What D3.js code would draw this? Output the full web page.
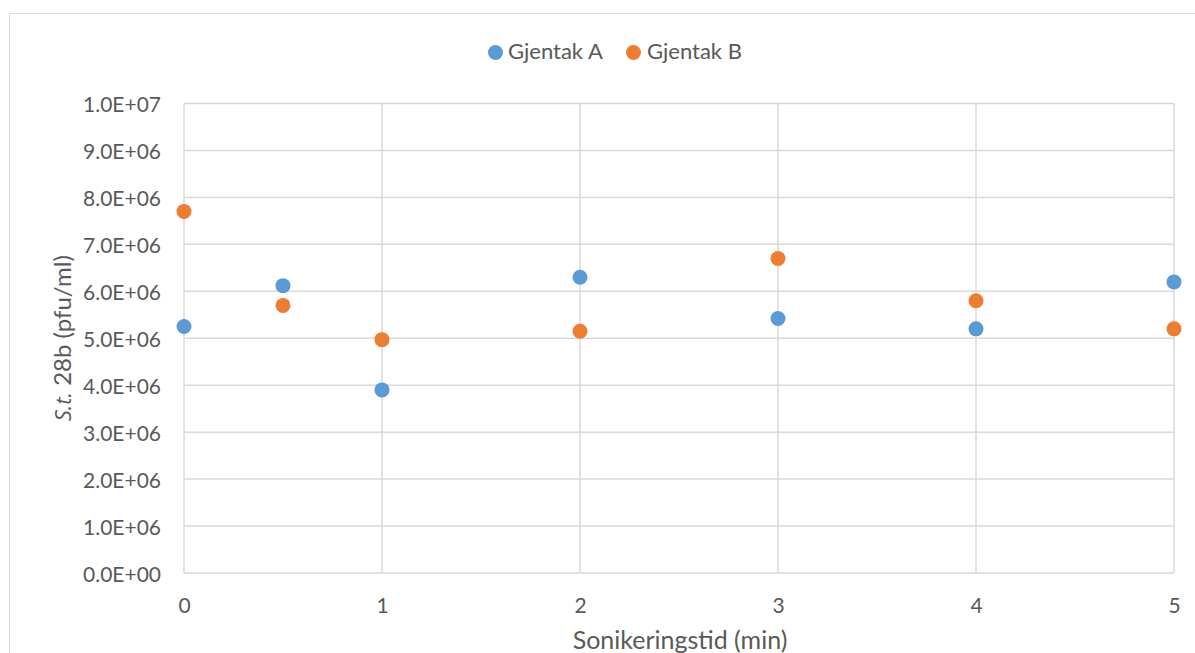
<!DOCTYPE html>
<html>
<head>
<meta charset="utf-8">
<script src="https://cdn.jsdelivr.net/npm/d3@7"></script>
<style>
  html, body { margin: 0; padding: 0; background: #fff; }
  svg { display: block; }
  text { font-family: Lato, "Open Sans", sans-serif; fill: #595959; }
</style>
</head>
<body>
<svg id="chart" width="1195" height="653"></svg>
<script>
// Sonication time (min)
const times = [0, 0.5, 1, 2, 3, 4, 5];
// Replicate A and B plaque counts (pfu/ml)
const gjentakA = [5.25e6, 6.12e6, 3.9e6, 6.3e6, 5.42e6, 5.2e6, 6.2e6];
const gjentakB = [7.7e6, 5.7e6, 4.97e6, 5.15e6, 6.7e6, 5.8e6, 5.2e6];
const seriesNames = ["Gjentak A", "Gjentak B"];
const seriesColors = ["#5b9bd5", "#ed7d31"];
const xTicks = [0, 1, 2, 3, 4, 5];
const yTicks = [0, 1e6, 2e6, 3e6, 4e6, 5e6, 6e6, 7e6, 8e6, 9e6, 1e7];

const FONT = "Lato, 'Open Sans', sans-serif";
const svg = d3.select("#chart");
const plot = { left: 184, right: 1174, top: 103.5, bottom: 573 };

// chart frame
svg.append("rect")
  .attr("x", 9.5).attr("y", 13.5)
  .attr("width", 1200).attr("height", 700)
  .attr("fill", "#fff").attr("stroke", "#d9d9d9").attr("stroke-width", 1);

const x = d3.scaleLinear().domain([0, 5]).range([plot.left, plot.right]);
const y = d3.scaleLinear().domain([0, 1e7]).range([plot.bottom, plot.top]);

const fmtSci = v => {
  if (v === 0) return "0.0E+00";
  const e = Math.floor(Math.log10(v));
  const m = v / Math.pow(10, e);
  return m.toFixed(1) + "E+" + String(e).padStart(2, "0");
};

// horizontal gridlines
svg.append("g")
  .selectAll("line").data(yTicks).join("line")
  .attr("x1", plot.left).attr("x2", plot.right)
  .attr("y1", d => y(d)).attr("y2", d => y(d))
  .attr("stroke", "#d9d9d9").attr("stroke-width", 1.5);

// vertical gridlines
svg.append("g")
  .selectAll("line").data(xTicks).join("line")
  .attr("x1", d => x(d)).attr("x2", d => x(d))
  .attr("y1", plot.top).attr("y2", plot.bottom)
  .attr("stroke", "#d9d9d9").attr("stroke-width", 1.5);

// y axis labels
const yAxis = svg.append("g")
  .attr("transform", `translate(${plot.left},0)`)
  .call(d3.axisLeft(y).tickValues(yTicks).tickFormat(fmtSci).tickSize(0).tickPadding(23));
yAxis.select(".domain").remove();
yAxis.selectAll("text")
  .attr("dy", "0.4em")
  .style("font-size", "21px").attr("fill", "#595959")
  .style("font-family", FONT);

// x axis labels
const xAxis = svg.append("g")
  .attr("transform", `translate(0,${plot.bottom})`)
  .call(d3.axisBottom(x).tickValues(xTicks).tickFormat(d3.format("d")).tickSize(0));
xAxis.select(".domain").remove();
xAxis.selectAll("text")
  .attr("y", 40).attr("dy", 0)
  .style("font-size", "21px").attr("fill", "#595959")
  .style("font-family", FONT);

// axis titles
svg.append("text")
  .attr("x", 680).attr("y", 649)
  .attr("text-anchor", "middle")
  .style("font-size", "25px")
  .text("Sonikeringstid (min)");

const yTitle = svg.append("text")
  .attr("transform", `translate(71,${(plot.top + plot.bottom) / 2}) rotate(-90)`)
  .attr("text-anchor", "middle")
  .style("font-size", "24px");
yTitle.append("tspan")
  .style("font-style", "italic")
  .style("font-family", "'Open Sans', 'DejaVu Sans', sans-serif")
  .style("font-size", "22px")
  .text("S.t.");
yTitle.append("tspan").text(" 28b (pfu/ml)");

// data points
[gjentakA, gjentakB].forEach((vals, i) => {
  svg.append("g")
    .selectAll("circle").data(vals).join("circle")
    .attr("cx", (d, j) => x(times[j]))
    .attr("cy", d => y(d))
    .attr("r", 7.5)
    .attr("fill", seriesColors[i]);
});

// legend
const legendItems = [{ cx: 495.5, tx: 508 }, { cx: 633.5, tx: 647 }];
legendItems.forEach((p, i) => {
  svg.append("circle").attr("cx", p.cx).attr("cy", 52.5).attr("r", 7.5).attr("fill", seriesColors[i]);
  svg.append("text").attr("x", p.tx).attr("y", 59)
    .style("font-size", "22px").text(seriesNames[i]);
});
</script>
</body>
</html>
